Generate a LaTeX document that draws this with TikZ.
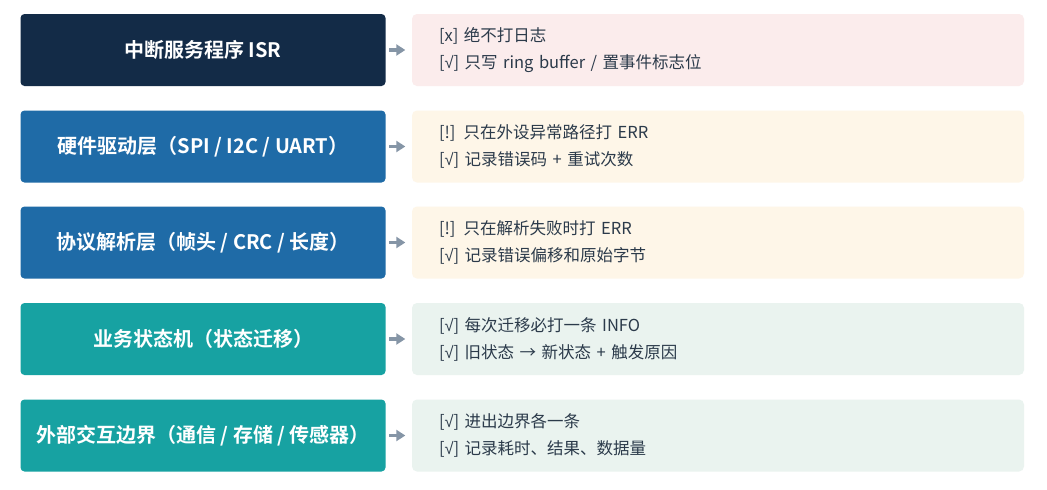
\documentclass[tikz,border=0pt]{standalone}
\usepackage{fontspec}
\setmainfont{Noto Sans CJK SC}[BoldFont={Noto Sans CJK SC Bold}]
\newfontfamily\symfont{Liberation Sans}
\newcommand{\ok}{[{\symfont √}]}
\usetikzlibrary{arrows.meta}
\definecolor{cnavy}{HTML}{132B47}
\definecolor{cblue}{HTML}{1F6BA7}
\definecolor{cteal}{HTML}{17A2A2}
\definecolor{bpink}{HTML}{FBECEC}
\definecolor{bcream}{HTML}{FEF6E8}
\definecolor{bgreen}{HTML}{EAF3EF}
\definecolor{ctext}{HTML}{2B3A4A}
\definecolor{carrow}{HTML}{8595A6}
\tikzset{
  layerbox/.style={rectangle, rounded corners=4pt, minimum width=365pt, minimum height=72pt,
    inner sep=0pt, text=white, font=\bfseries\fontsize{20}{24}\selectfont},
  notebox/.style={rectangle, rounded corners=5pt, minimum width=612pt, minimum height=72pt,
    inner xsep=27pt, inner ysep=0pt, text width=558pt, align=left, text=ctext,
    font=\fontsize{16.5}{27}\selectfont},
  arr/.style={draw=carrow, line width=3.2pt, -{Triangle[length=9pt,width=11pt]}}
}
\begin{document}
\begin{tikzpicture}[x=1pt,y=-1pt]
\useasboundingbox[fill=white] (0,0) rectangle (1047,490);
\node[layerbox, fill=cnavy] (L1) at (203,50) {中断服务程序 ISR};
\node[layerbox, fill=cblue] (L2) at (203,146.5) {硬件驱动层（SPI / I2C / UART）};
\node[layerbox, fill=cblue] (L3) at (203,242.5) {协议解析层（帧头 / CRC / 长度）};
\node[layerbox, fill=cteal] (L4) at (203,339) {业务状态机（状态迁移）};
\node[layerbox, fill=cteal] (L5) at (203,435.5) {外部交互边界（通信 / 存储 / 传感器）};
\node[notebox, fill=bpink] (R1) at (718,50) {[x] 绝不打日志\\\relax \ok{} 只写 ring buffer / 置事件标志位};
\node[notebox, fill=bcream] (R2) at (718,146.5) {[!] 只在外设异常路径打 ERR\\\relax \ok{} 记录错误码 + 重试次数};
\node[notebox, fill=bcream] (R3) at (718,242.5) {[!] 只在解析失败时打 ERR\\\relax \ok{} 记录错误偏移和原始字节};
\node[notebox, fill=bgreen] (R4) at (718,339) {\ok{} 每次迁移必打一条 INFO\\\relax \ok{} 旧状态 → 新状态 + 触发原因};
\node[notebox, fill=bgreen] (R5) at (718,435.5) {\ok{} 进出边界各一条\\\relax \ok{} 记录耗时、结果、数据量};
\foreach \i in {1,...,5}{
  \draw[arr] ([xshift=3.5pt]L\i.east) -- ([xshift=-6.5pt]R\i.west);
}
\end{tikzpicture}
\end{document}
